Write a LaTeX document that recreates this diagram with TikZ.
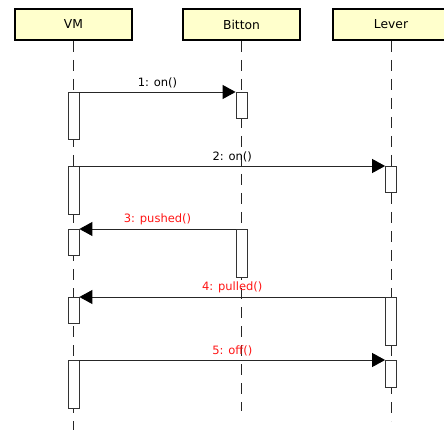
\documentclass[tikz,border=0pt]{standalone}
\usepackage{fontspec}
\setmainfont{DejaVu Sans}
\usetikzlibrary{arrows.meta}
\definecolor{headfill}{RGB}{255,255,204}
\definecolor{msgred}{RGB}{255,20,20}
\begin{document}
\begin{tikzpicture}[x=1pt,y=-1pt,
  header/.style={draw=black,line width=2pt,fill=headfill,minimum width=117pt,
    minimum height=31pt,inner sep=0pt,font=\fontsize{12.3}{14}\selectfont},
  lifeline/.style={draw=black!85,line width=0.9pt,dash pattern=on 11pt off 8pt},
  act/.style={draw=black!80,fill=white,line width=0.8pt,minimum width=11pt,
    inner sep=0pt,anchor=north},
  msg/.style={draw=black!85,line width=0.9pt,
    -{Triangle[length=13pt,width=14pt,fill=black,color=black]}},
  lbl/.style={font=\fontsize{11.5}{13}\selectfont,inner sep=0pt,above=3.5pt,midway},
  redlbl/.style={lbl,text=msgred}]
\useasboundingbox (0,0) rectangle (444,430);

% object headers
\node[header] (vm) at (73.5,24.5) {VM};
\node[header] (bt) at (241.5,24.5) {Bitton};
\node[header] (lv) at (391,24.5) {Lever};

% lifeline ends
\coordinate (vmend) at (73.5,430);
\coordinate (btend) at (241.5,411);
\coordinate (lvend) at (391,421);

\draw[lifeline] (vm.south) -- (vmend);
\draw[lifeline] (bt.south) -- (btend);
\draw[lifeline] (lv.south) -- (lvend);

% activation bars
\node[act,minimum height=47pt] (vm1) at (73.5,92) {};
\node[act,minimum height=48pt] (vm2) at (73.5,166) {};
\node[act,minimum height=26pt] (vm3) at (73.5,229) {};
\node[act,minimum height=26pt] (vm4) at (73.5,297) {};
\node[act,minimum height=48pt] (vm5) at (73.5,360) {};
\node[act,minimum height=26pt] (bt1) at (241.5,92) {};
\node[act,minimum height=48pt] (bt2) at (241.5,229) {};
\node[act,minimum height=26pt] (lv1) at (391,166) {};
\node[act,minimum height=48pt] (lv2) at (391,297) {};
\node[act,minimum height=27pt] (lv3) at (391,360) {};

% messages
\draw[msg] (vm1.north east) -- node[lbl] {1: on()} (bt1.north west);
\draw[msg] (vm2.north east) -- node[lbl] {2: on()} (lv1.north west);
\draw[msg] (bt2.north west) -- node[redlbl] {3: pushed()} (vm3.north east);
\draw[msg] (lv2.north west) -- node[redlbl] {4: pulled()} (vm4.north east);
\draw[msg] (vm5.north east) -- node[redlbl] {5: off()} (lv3.north west);
\end{tikzpicture}
\end{document}
